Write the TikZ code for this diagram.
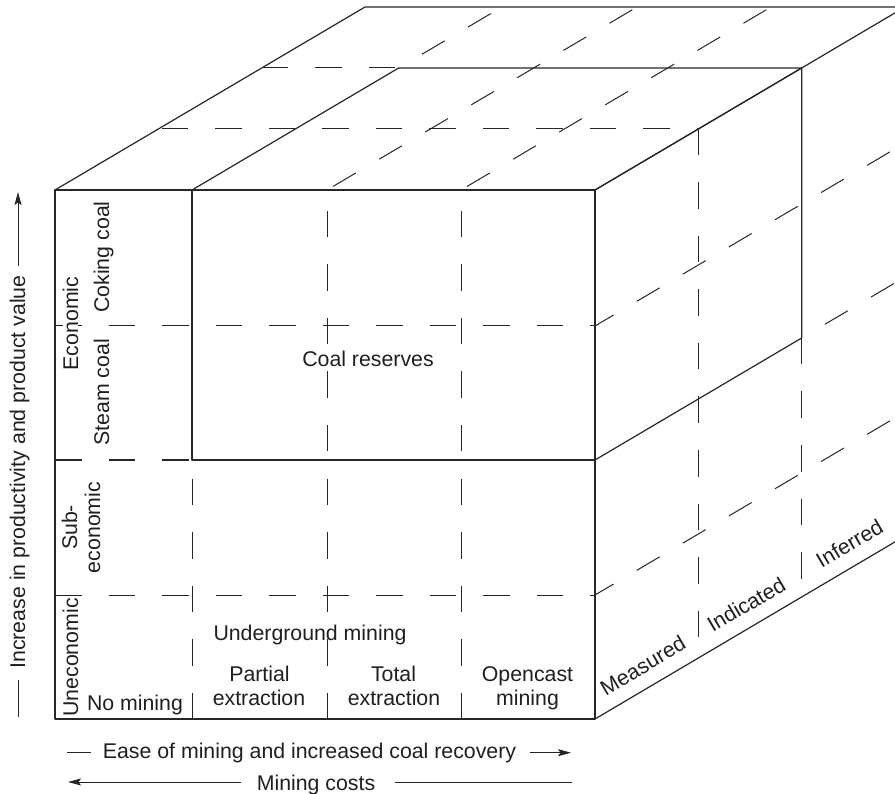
\documentclass[tikz,border=0pt]{standalone}
\usepackage{fontspec}
\setmainfont{Liberation Sans}
\usetikzlibrary{arrows.meta,calc}
\begin{document}
\begin{tikzpicture}[x=1pt,y=-1pt,
 solidedge/.style={line width=1.2pt,line join=round,draw=black!85},
 hidden/.style={line width=1pt,draw=black!85,dash pattern=on 26.5pt off 27pt},
 txt/.style={font=\fontsize{21.3}{24}\selectfont,inner sep=0pt,text=black!88},
 vtxt/.style={txt,rotate=90,anchor=base},
 htxt/.style={txt,anchor=base},
 rtxt/.style={txt,rotate=30.56,anchor=base},
 axisline/.style={line width=1pt,draw=black!85},
 axisarrow/.style={line width=1pt,draw=black!85,-{Stealth[length=13pt,width=7pt,inset=2.5pt]}},
]
\useasboundingbox (0,0) rectangle (895,794);
\clip (0,0) rectangle (895,794);

% main corners
\coordinate (ftl) at (55,190);
\coordinate (ftr) at (595,190);
\coordinate (fbl) at (55,719);
\coordinate (fbr) at (595,719);
\coordinate (btl) at (365,7);
\coordinate (btr) at (905,7);
\coordinate (bbr) at (905,536);
% front grid
\coordinate (a1) at (192,190);
\coordinate (a2) at (192,460);
\coordinate (a3) at (192,719);
\coordinate (b1) at (327,190);
\coordinate (b3) at (327,719);
\coordinate (c1) at (461,190);
\coordinate (c3) at (461,719);
\coordinate (l1) at (55,326);
\coordinate (r1) at (595,326);
\coordinate (l2) at (55,460);
\coordinate (r2) at (595,460);
\coordinate (l3) at (55,595);
\coordinate (r3) at (595,595);
% depth points
\coordinate (ka) at (398.67,68);
\coordinate (kb) at (801.67,68);
\coordinate (kc) at (801.67,338);
\coordinate (kd) at (801.67,597);
\coordinate (ma) at (698.33,129);
\coordinate (mb) at (698.33,658);
\coordinate (ta) at (158.33,129);
\coordinate (tb) at (261.67,68);
\coordinate (r1b) at (905,143);
\coordinate (r2b) at (905,277);
\coordinate (r3b) at (905,412);
\coordinate (kab) at (502,7);
\coordinate (b1b) at (637,7);
\coordinate (c1b) at (771,7);

% hidden (dashed) lines: front face
\draw[hidden] (l1) -- (r1);
\draw[hidden] (l2) -- (a2);
\draw[hidden] (l3) -- (r3);
\draw[hidden] (a3) -- (a2);
\draw[hidden] (b3) -- (b1);
\draw[hidden] (c3) -- (c1);
% right face
\draw[hidden,dash phase=5pt] (r1) -- (r1b);
\draw[hidden,dash phase=26.5pt] (kc) -- (r2b);
\draw[hidden,dash phase=5pt] (r3) -- (r3b);
\draw[hidden] (ma) -- (mb);
\draw[hidden] (kc) -- (kd);
% top face
\draw[hidden,dash phase=50pt] (ta) -- (ma);
\draw[hidden] (tb) -- (ka);
\draw[hidden,dash phase=26.5pt] (ka) -- (kab);
\draw[hidden,dash phase=46.5pt] (b1) -- (b1b);
\draw[hidden,dash phase=46.5pt] (c1) -- (c1b);

% solid edges of the cube
\draw[solidedge] (ftl) rectangle (fbr);
\draw[solidedge] (ftl) -- (btl) -- (btr) -- (ftr);
\draw[solidedge] (fbr) -- (bbr) -- (btr);
% coal reserves block
\draw[solidedge] (a1) -- (a2) -- (r2);
\draw[solidedge] (a1) -- (ka) -- (kb) -- (ftr);
\draw[solidedge] (r2) -- (kc) -- (kb);

% labels on the front face
\node[vtxt,fill=white] (econ) at (78,323.5) {Economic};
\node[vtxt] (coking) at (109,257) {Coking coal};
\node[vtxt] (steam) at (109,392.5) {Steam coal};
\node[vtxt] (sub1) at (77,527.5) {Sub-};
\node[vtxt] (sub2) at (100,527.5) {economic};
\node[vtxt] (uneco) at (78,657.5) {Uneconomic};
\node[htxt] (nomin) at (135,710.5) {No mining};
\node[htxt] (under) at (310,640) {Underground mining};
\node[htxt] (part1) at (259.5,681.5) {Partial};
\node[htxt] (part2) at (259,705) {extraction};
\node[htxt] (tot1) at (393.5,681.5) {Total};
\node[htxt] (tot2) at (394,705) {extraction};
\node[htxt] (open1) at (527.5,681.5) {Opencast};
\node[htxt] (open2) at (527.5,705) {mining};
\node[htxt] (coal) at (368,367) {Coal reserves};

% labels on the right face
\node[rtxt] (meas) at ($(fbr)!1/6!(bbr)+(0,-16.5)$) {Measured};
\node[rtxt] (indi) at ($(fbr)!1/2!(bbr)+(0,-16.5)$) {Indicated};
\node[rtxt] (infe) at ($(fbr)!5/6!(bbr)+(0,-16.5)$) {Inferred};

% axis labels
\node[vtxt] (yax) at (25,472) {Increase in productivity and product value};
\coordinate (ya0) at (18,717);
\coordinate (ya1) at (18,680);
\coordinate (ya2) at (18,266);
\coordinate (ya3) at (18,192);
\draw[axisline] (ya0) -- (ya1);
\draw[axisarrow] (ya2) -- (ya3);

\node[htxt] (ease) at (309.5,758) {Ease of mining and increased coal recovery};
\coordinate (ea0) at (67,752.7);
\coordinate (ea1) at (91,752.7);
\coordinate (ea2) at (530,752.7);
\coordinate (ea3) at (571,752.7);
\draw[axisline] (ea0) -- (ea1);
\draw[axisarrow] (ea2) -- (ea3);

\node[htxt] (cost) at (316,790) {Mining costs};
\coordinate (mc0) at (241,782);
\coordinate (mc1) at (68,782);
\coordinate (mc2) at (395,782);
\coordinate (mc3) at (572,782);
\draw[axisarrow] (mc0) -- (mc1);
\draw[axisline] (mc2) -- (mc3);
\end{tikzpicture}
\end{document}
